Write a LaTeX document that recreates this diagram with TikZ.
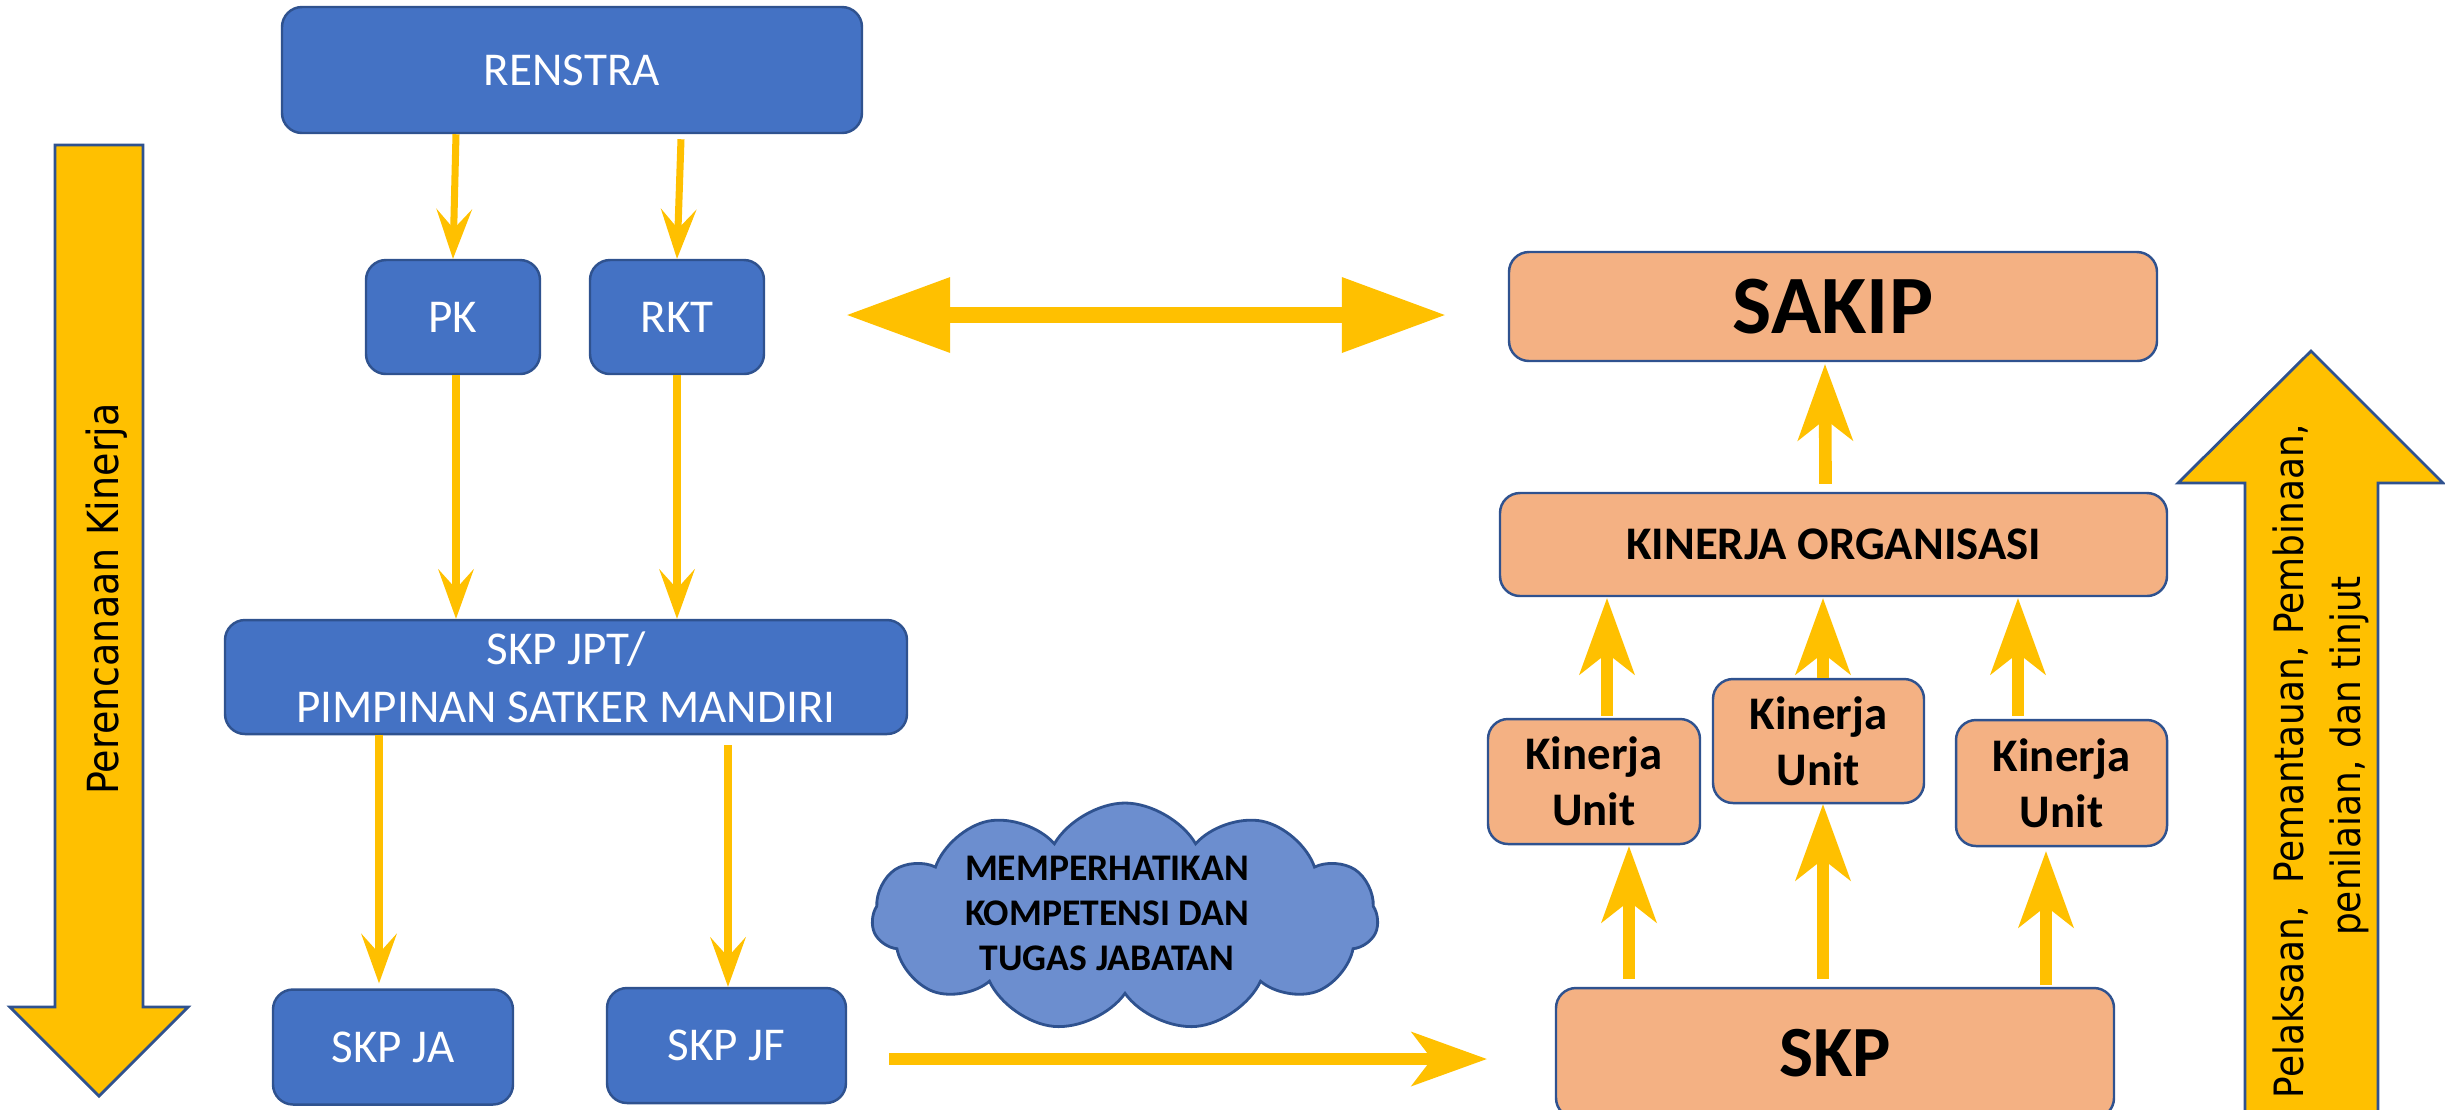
\documentclass[tikz,border=0pt]{standalone}
\usepackage{fontspec}
\setmainfont{Carlito}
\newfontfamily\sidefont[FakeStretch=0.888]{DejaVu Sans}
\usetikzlibrary{arrows.meta,shapes.symbols,calc}

\definecolor{boxblue}{HTML}{4472C4}
\definecolor{edgeblue}{HTML}{2F528F}
\definecolor{peach}{HTML}{F4B183}
\definecolor{amber}{HTML}{FFC000}
\definecolor{cloudblue}{HTML}{6C8ECF}

\begin{document}
\begin{tikzpicture}[x=0.1mm,y=-0.1mm,
  bluebox/.style={draw=edgeblue,line width=0.7pt,fill=boxblue,rounded corners=2mm,
    text=white,font=\fontsize{13.4pt}{16.5pt}\selectfont,align=center,inner sep=0pt},
  peachbox/.style={draw=edgeblue,line width=0.7pt,fill=peach,rounded corners=2mm,
    text=black,font=\bfseries\fontsize{13.3pt}{15.9pt}\selectfont,align=center,inner sep=0pt},
  thinarr/.style={draw=amber,line width=2pt,
    -{Stealth[length=5mm,width=3.6mm,inset=2mm,line width=0pt]}},
  thickarr/.style={draw=amber,line width=3.6pt,
    -{Stealth[length=7.7mm,width=5.6mm,inset=2.2mm,line width=0pt]}},
  dblarr/.style={draw=amber,line width=1.6mm,
    {Triangle[length=10.3mm,width=7.6mm,line width=0pt]}-{Triangle[length=10.3mm,width=7.6mm,line width=0pt]}},
  botarr/.style={draw=amber,line width=1.2mm,
    -{Stealth[length=7.6mm,width=5.5mm,inset=2.1mm,line width=0pt]}},
  blockarrow/.style={fill=amber,draw=edgeblue,line width=0.8pt,line join=miter},
  sidetext/.style={inner sep=0pt,text=black,rotate=90,anchor=base},
]
\useasboundingbox (0,0) rectangle (2445,1109);
\clip (0,0) rectangle (2445,1109);

% block arrows at the sides
\draw[blockarrow] (55,145) -- (143,145) -- (143,1007) -- (188,1007) -- (99,1096)
  -- (10,1007) -- (55,1007) -- cycle;
\draw[blockarrow] (2245,1140) -- (2245,483) -- (2178,483) -- (2311,351) -- (2443,483)
  -- (2378,483) -- (2378,1140) -- cycle;

\node[sidetext,font=\sidefont\fontsize{12.2pt}{14pt}\selectfont] (plantext) at (118,599)
  {Perencanaan Kinerja};
\node[sidetext,font=\sidefont\fontsize{11.5pt}{14pt}\selectfont] (runtexta) at (2303,761)
  {Pelaksaan,\ \ Pemantauan, Pembinaan,};
\node[sidetext,font=\sidefont\fontsize{11.5pt}{14pt}\selectfont] (runtextb) at (2360,756)
  {penilaian, dan tinjut};

% planning chain
\node[bluebox,minimum width=58mm,minimum height=12.6mm] (renstra) at (572,70) {RENSTRA};
\node[bluebox,minimum width=17.4mm,minimum height=11.4mm] (pk) at (453,317) {PK};
\node[bluebox,minimum width=17.4mm,minimum height=11.4mm] (rkt) at (677,317) {RKT};
\node[bluebox,minimum width=68.2mm,minimum height=11.4mm] (jpt) at (566,677)
  {SKP JPT/\\PIMPINAN SATKER MANDIRI};
\node[bluebox,minimum width=24mm,minimum height=11.5mm] (ja) at (393,1047) {SKP JA};
\node[bluebox,minimum width=23.9mm,minimum height=11.5mm] (jf) at (726.5,1045.5) {SKP JF};

% performance chain
\node[peachbox,minimum width=64.8mm,minimum height=10.9mm,
  font=\bfseries\fontsize{23.6pt}{26pt}\selectfont] (sakip) at (1833,306.5) {SAKIP};
\node[peachbox,minimum width=66.7mm,minimum height=10.3mm] (ko) at (1833.5,544.5)
  {KINERJA ORGANISASI};
\node[peachbox,minimum width=21.2mm,minimum height=12.5mm] (ku1) at (1594,781.5) {Kinerja\\Unit};
\node[peachbox,minimum width=21.1mm,minimum height=12.4mm] (ku2) at (1818.5,741) {Kinerja\\Unit};
\node[peachbox,minimum width=21.1mm,minimum height=12.6mm] (ku3) at (2061.5,783) {Kinerja\\Unit};
\node[peachbox,minimum width=55.8mm,minimum height=13mm,
  font=\bfseries\fontsize{20.5pt}{24pt}\selectfont] (skp) at (1835,1053) {SKP};

% cloud note
\node[cloud,cloud puffs=11,cloud puff arc=120,aspect=2.2,draw=edgeblue,fill=cloudblue,
  line width=0.8pt,minimum width=50.6mm,minimum height=22.8mm,inner sep=0pt] (cloud) at (1125,917) {};
\node[font=\bfseries\fontsize{10.7pt}{12.8pt}\selectfont,align=center,inner sep=0pt] (cloudtxt)
  at (1107,913) {MEMPERHATIKAN\\KOMPETENSI DAN\\TUGAS JABATAN};

% connectors, planning side
\draw[thinarr] ($(renstra.south)+(-116,0)$) -- (pk.north);
\draw[thinarr] ($(renstra.south)+(109,5)$) -- (rkt.north);
\draw[thinarr] ($(pk.south)+(3,0)$) -- ($(pk.south |- jpt.north)+(3,0)$);
\draw[thinarr] (rkt.south) -- (rkt.south |- jpt.north);
\draw[thinarr] ($(ja.north |- jpt.south)+(-14,0)$) -- ($(ja.north)+(-14,-5)$);
\draw[thinarr] ($(jf.north |- jpt.south)+(1.5,10)$) -- ($(jf.north)+(1.5,0)$);

% connectors, performance side
\draw[thickarr] ($(ko.north)+(-8,-8)$) -- ($(sakip.south)+(-8,2)$);
\draw[thickarr] ($(ku1.north)+(13,-2)$) -- ($(ku1.north |- ko.south)+(13,1)$);
\draw[thickarr] ($(ku2.north)+(4.5,0)$) -- ($(ku2.north |- ko.south)+(4.5,1)$);
\draw[thickarr] ($(ku3.north)+(-43.5,-3)$) -- ($(ku3.north |- ko.south)+(-43.5,1)$);
\draw[thickarr] ($(ku1.south |- skp.north)+(35,-8)$) -- ($(ku1.south)+(35,1)$);
\draw[thickarr] ($(ku2.south |- skp.north)+(4.5,-8)$) -- ($(ku2.south)+(4.5,0)$);
\draw[thickarr] ($(ku3.south |- skp.north)+(-15.5,-2)$) -- ($(ku3.south)+(-15.5,4)$);

% links between the two sides
\draw[dblarr] ($(rkt.east)+(82,-2)$) -- ($(sakip.west |- rkt.east)+(-63,-2)$);
\draw[botarr] ($(jf.east |- skp.west)+(42,6)$) -- ($(skp.west)+(-68,6)$);
\end{tikzpicture}
\end{document}
